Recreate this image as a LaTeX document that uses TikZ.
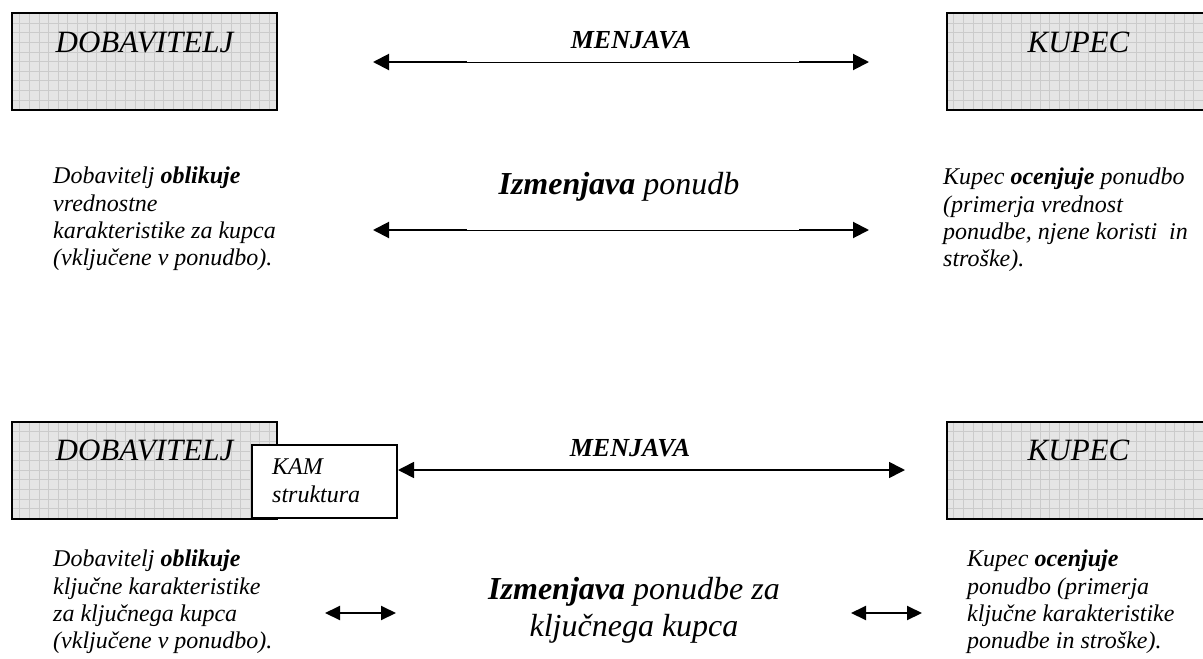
\documentclass[tikz,border=0pt]{standalone}
\usepackage{fontspec}
\setmainfont{Liberation Serif}
\usetikzlibrary{arrows.meta}
\definecolor{boxgray}{RGB}{229,229,229}
\definecolor{gridgray}{RGB}{203,203,203}
\begin{document}
\begin{tikzpicture}[x=1pt,y=-1pt,
  partybox/.style={draw=black,line width=2pt,fill=boxgray,
    minimum width=265pt,minimum height=97pt,inner sep=0pt,
    path picture={\draw[gridgray,line width=0.6pt,step=9.6pt]
      (path picture bounding box.south west) grid (path picture bounding box.north east);}},
  kambox/.style={draw=black,line width=2pt,fill=white,
    minimum width=145pt,minimum height=73pt,inner sep=0pt},
  title/.style={font=\fontsize{31}{36}\selectfont\itshape,inner sep=0pt,anchor=base},
  flow/.style={font=\fontsize{26}{30}\selectfont\bfseries\itshape,inner sep=0pt,anchor=base},
  body/.style={font=\fontsize{24}{27.3}\selectfont\itshape,inner sep=0pt,align=left,
    anchor=north west,yshift=19.11pt},
  big/.style={font=\fontsize{32}{37}\selectfont\itshape,inner sep=0pt,align=center,
    anchor=north,yshift=25.9pt},
  bigone/.style={font=\fontsize{32}{37}\selectfont\itshape,inner sep=0pt,anchor=base},
  thinline/.style={line width=1pt},
  headline/.style={line width=2pt,-{Triangle[length=16pt,width=16pt]}},
  bothline/.style={line width=1.6pt,{Triangle[length=16pt,width=16pt]}-{Triangle[length=16pt,width=16pt]}},
  smallarrow/.style={line width=2pt,{Triangle[length=15pt,width=14pt]}-{Triangle[length=15pt,width=14pt]}}
]
\useasboundingbox (0,0) rectangle (1203,659);

% ---- upper scheme: supplier and buyer ----
\node[partybox] (sup1) at (144.5,61.5) {};
\node[partybox,minimum width=263pt] (buy1) at (1078.5,61.5) {};
\node[title] (sup1t) at ([yshift=-40pt]sup1.north) {DOBAVITELJ};
\node[title] (buy1t) at ([yshift=-40pt]buy1.north) {KUPEC};

% exchange arrow between the parties
\coordinate (m1l) at (373,62);
\coordinate (m1li) at (467,62);
\coordinate (m1ri) at (799,62);
\coordinate (m1r) at (869,62);
\draw[thinline] (m1li) -- (m1ri);
\draw[headline] (m1li) -- (m1l);
\draw[headline] (m1ri) -- (m1r);
\node[flow] (men1) at (631,48) {MENJAVA};

% offer exchange arrow
\coordinate (m2l) at (373,230);
\coordinate (m2li) at (467,230);
\coordinate (m2ri) at (799,230);
\coordinate (m2r) at (869,230);
\draw[thinline] (m2li) -- (m2ri);
\draw[headline] (m2li) -- (m2l);
\draw[headline] (m2ri) -- (m2r);
\node[bigone] (izm1) at (619,194) {\textbf{Izmenjava} ponudb};

\node[body] (tl) at (53,186) {Dobavitelj \textbf{oblikuje}\\vrednostne\\karakteristike za kupca\\(vključene v ponudbo).};
\node[body] (tr) at (943,187) {Kupec \textbf{ocenjuje} ponudbo\\(primerja vrednost\\ponudbe, njene koristi\ \ in\\stroške).};

% ---- lower scheme: key account management ----
\node[partybox] (sup2) at (144.5,470) {};
\node[partybox,minimum width=263pt] (buy2) at (1078.5,470) {};
\node[title] (sup2t) at ([yshift=-40pt]sup2.north) {DOBAVITELJ};
\node[title] (buy2t) at ([yshift=-40pt]buy2.north) {KUPEC};
\node[kambox] (kam) at (324.5,481.5) {};
\node[body] (kamt) at (272,478) {KAM\\struktura};

\coordinate (m3r) at (905,470);
\draw[bothline] (kam.east |- m3r) -- (m3r);
\node[flow] (men2) at (630,456) {MENJAVA};

\node[big] (izm2) at (634,603) {\textbf{Izmenjava} ponudbe za\\ključnega kupca};

\coordinate (s1l) at (325,613);
\coordinate (s1r) at (396,613);
\coordinate (s2l) at (851,613);
\coordinate (s2r) at (922,613);
\draw[smallarrow] (s1l) -- (s1r);
\draw[smallarrow] (s2l) -- (s2r);

\node[body] (bl) at (53,569) {Dobavitelj \textbf{oblikuje}\\ključne karakteristike\\za ključnega kupca\\(vključene v ponudbo).};
\node[body] (br) at (967,569) {Kupec \textbf{ocenjuje}\\ponudbo (primerja\\ključne karakteristike\\ponudbe in stroške).};
\end{tikzpicture}
\end{document}
